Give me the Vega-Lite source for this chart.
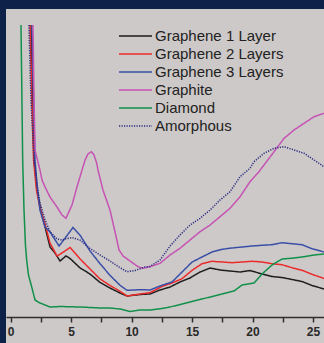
{
"$schema": "https://vega.github.io/schema/vega-lite/v6.json",
"width": 318, "height": 334,
"autosize": {"type": "none"},
"padding": {"left": 6, "top": 9, "right": 0, "bottom": 0},
"background": "#0e2148",
"config": {"view": {"stroke": null, "fill": "#cdc9c8"}},
"datasets": {
"d1": [
{"s":"Graphene 1 Layer","x":1.68,"y":292},{"s":"Graphene 1 Layer","x":1.80,"y":217},{"s":"Graphene 1 Layer","x":1.93,"y":157},{"s":"Graphene 1 Layer","x":2.18,"y":127},{"s":"Graphene 1 Layer","x":2.48,"y":107},{"s":"Graphene 1 Layer","x":2.84,"y":90},{"s":"Graphene 1 Layer","x":3.25,"y":70},{"s":"Graphene 1 Layer","x":3.66,"y":64},{"s":"Graphene 1 Layer","x":4.08,"y":56},{"s":"Graphene 1 Layer","x":4.57,"y":61},{"s":"Graphene 1 Layer","x":4.91,"y":58.5},{"s":"Graphene 1 Layer","x":5.74,"y":49},{"s":"Graphene 1 Layer","x":6.56,"y":43},{"s":"Graphene 1 Layer","x":7.39,"y":34.5},{"s":"Graphene 1 Layer","x":8.21,"y":29},{"s":"Graphene 1 Layer","x":9.04,"y":24},{"s":"Graphene 1 Layer","x":9.62,"y":21},{"s":"Graphene 1 Layer","x":10.70,"y":22.5},{"s":"Graphene 1 Layer","x":11.52,"y":23},{"s":"Graphene 1 Layer","x":12.35,"y":27},{"s":"Graphene 1 Layer","x":13.18,"y":30},{"s":"Graphene 1 Layer","x":14.00,"y":35},{"s":"Graphene 1 Layer","x":14.83,"y":39},{"s":"Graphene 1 Layer","x":15.66,"y":45},{"s":"Graphene 1 Layer","x":16.49,"y":49},{"s":"Graphene 1 Layer","x":17.31,"y":47},{"s":"Graphene 1 Layer","x":18.14,"y":46},{"s":"Graphene 1 Layer","x":18.97,"y":45},{"s":"Graphene 1 Layer","x":19.79,"y":46.5},{"s":"Graphene 1 Layer","x":20.79,"y":43},{"s":"Graphene 1 Layer","x":21.61,"y":40.5},{"s":"Graphene 1 Layer","x":22.44,"y":39.5},{"s":"Graphene 1 Layer","x":23.27,"y":37.5},{"s":"Graphene 1 Layer","x":24.09,"y":35.5},{"s":"Graphene 1 Layer","x":24.92,"y":31.5},{"s":"Graphene 1 Layer","x":25.91,"y":28},
{"s":"Graphene 2 Layers","x":1.60,"y":292},{"s":"Graphene 2 Layers","x":1.75,"y":217},{"s":"Graphene 2 Layers","x":1.89,"y":157},{"s":"Graphene 2 Layers","x":2.13,"y":127},{"s":"Graphene 2 Layers","x":2.42,"y":109},{"s":"Graphene 2 Layers","x":2.84,"y":93},{"s":"Graphene 2 Layers","x":3.25,"y":74},{"s":"Graphene 2 Layers","x":3.83,"y":61},{"s":"Graphene 2 Layers","x":4.24,"y":64},{"s":"Graphene 2 Layers","x":4.91,"y":69.5},{"s":"Graphene 2 Layers","x":5.74,"y":58},{"s":"Graphene 2 Layers","x":6.56,"y":48},{"s":"Graphene 2 Layers","x":7.39,"y":38},{"s":"Graphene 2 Layers","x":8.21,"y":31.5},{"s":"Graphene 2 Layers","x":9.04,"y":25.7},{"s":"Graphene 2 Layers","x":9.62,"y":21},{"s":"Graphene 2 Layers","x":10.70,"y":23},{"s":"Graphene 2 Layers","x":11.52,"y":24.3},{"s":"Graphene 2 Layers","x":12.51,"y":30.5},{"s":"Graphene 2 Layers","x":13.34,"y":34},{"s":"Graphene 2 Layers","x":14.17,"y":38.3},{"s":"Graphene 2 Layers","x":15.00,"y":46.7},{"s":"Graphene 2 Layers","x":15.82,"y":53.3},{"s":"Graphene 2 Layers","x":16.65,"y":55.7},{"s":"Graphene 2 Layers","x":17.48,"y":55},{"s":"Graphene 2 Layers","x":18.30,"y":54.3},{"s":"Graphene 2 Layers","x":19.13,"y":55},{"s":"Graphene 2 Layers","x":19.96,"y":55.7},{"s":"Graphene 2 Layers","x":20.79,"y":55},{"s":"Graphene 2 Layers","x":21.61,"y":53.3},{"s":"Graphene 2 Layers","x":22.44,"y":52.3},{"s":"Graphene 2 Layers","x":23.27,"y":49.3},{"s":"Graphene 2 Layers","x":24.09,"y":46.7},{"s":"Graphene 2 Layers","x":24.92,"y":42.7},{"s":"Graphene 2 Layers","x":25.91,"y":38.5},
{"s":"Graphene 3 Layers","x":1.76,"y":292},{"s":"Graphene 3 Layers","x":1.89,"y":217},{"s":"Graphene 3 Layers","x":2.01,"y":157},{"s":"Graphene 3 Layers","x":2.22,"y":127},{"s":"Graphene 3 Layers","x":2.42,"y":107},{"s":"Graphene 3 Layers","x":2.84,"y":90},{"s":"Graphene 3 Layers","x":3.25,"y":85},{"s":"Graphene 3 Layers","x":4.00,"y":71},{"s":"Graphene 3 Layers","x":4.57,"y":80},{"s":"Graphene 3 Layers","x":5.15,"y":89.5},{"s":"Graphene 3 Layers","x":5.74,"y":81.7},{"s":"Graphene 3 Layers","x":6.56,"y":66},{"s":"Graphene 3 Layers","x":7.39,"y":53.3},{"s":"Graphene 3 Layers","x":8.21,"y":41.7},{"s":"Graphene 3 Layers","x":9.04,"y":31.7},{"s":"Graphene 3 Layers","x":9.62,"y":26.7},{"s":"Graphene 3 Layers","x":10.70,"y":27.3},{"s":"Graphene 3 Layers","x":11.52,"y":27},{"s":"Graphene 3 Layers","x":12.51,"y":31.7},{"s":"Graphene 3 Layers","x":13.34,"y":35},{"s":"Graphene 3 Layers","x":14.17,"y":45},{"s":"Graphene 3 Layers","x":15.00,"y":55},{"s":"Graphene 3 Layers","x":15.82,"y":60},{"s":"Graphene 3 Layers","x":16.65,"y":65},{"s":"Graphene 3 Layers","x":17.48,"y":67.7},{"s":"Graphene 3 Layers","x":18.30,"y":69},{"s":"Graphene 3 Layers","x":19.13,"y":70},{"s":"Graphene 3 Layers","x":19.96,"y":71},{"s":"Graphene 3 Layers","x":20.79,"y":71.7},{"s":"Graphene 3 Layers","x":21.61,"y":72.3},{"s":"Graphene 3 Layers","x":22.44,"y":74.3},{"s":"Graphene 3 Layers","x":23.27,"y":73.3},{"s":"Graphene 3 Layers","x":24.09,"y":72.3},{"s":"Graphene 3 Layers","x":24.92,"y":68.3},{"s":"Graphene 3 Layers","x":25.91,"y":65},
{"s":"Graphite","x":1.84,"y":292},{"s":"Graphite","x":1.93,"y":217},{"s":"Graphite","x":2.01,"y":167},{"s":"Graphite","x":2.42,"y":147},{"s":"Graphite","x":2.59,"y":137},{"s":"Graphite","x":2.84,"y":130},{"s":"Graphite","x":3.25,"y":120},{"s":"Graphite","x":3.83,"y":110},{"s":"Graphite","x":4.24,"y":102},{"s":"Graphite","x":4.57,"y":98.7},{"s":"Graphite","x":5.07,"y":112},{"s":"Graphite","x":5.48,"y":130},{"s":"Graphite","x":5.90,"y":147},{"s":"Graphite","x":6.15,"y":157},{"s":"Graphite","x":6.39,"y":163},{"s":"Graphite","x":6.68,"y":165.3},{"s":"Graphite","x":6.89,"y":162},{"s":"Graphite","x":7.11,"y":154},{"s":"Graphite","x":7.22,"y":147},{"s":"Graphite","x":7.63,"y":127},{"s":"Graphite","x":8.21,"y":107},{"s":"Graphite","x":8.63,"y":85},{"s":"Graphite","x":8.96,"y":67},{"s":"Graphite","x":9.29,"y":61},{"s":"Graphite","x":9.87,"y":56},{"s":"Graphite","x":10.53,"y":50.3},{"s":"Graphite","x":10.94,"y":48.7},{"s":"Graphite","x":11.52,"y":50.3},{"s":"Graphite","x":12.35,"y":53.7},{"s":"Graphite","x":13.18,"y":62},{"s":"Graphite","x":14.00,"y":68.7},{"s":"Graphite","x":14.83,"y":77},{"s":"Graphite","x":15.66,"y":85.3},{"s":"Graphite","x":16.49,"y":92},{"s":"Graphite","x":17.31,"y":100.3},{"s":"Graphite","x":18.14,"y":108.7},{"s":"Graphite","x":18.97,"y":120.3},{"s":"Graphite","x":19.79,"y":135.3},{"s":"Graphite","x":20.51,"y":145},{"s":"Graphite","x":20.95,"y":152},{"s":"Graphite","x":21.78,"y":165.3},{"s":"Graphite","x":22.61,"y":178.7},{"s":"Graphite","x":23.43,"y":187},{"s":"Graphite","x":24.26,"y":193.7},{"s":"Graphite","x":25.09,"y":200.3},{"s":"Graphite","x":25.91,"y":203.7},
{"s":"Diamond","x":0.85,"y":292},{"s":"Diamond","x":0.93,"y":217},{"s":"Diamond","x":0.99,"y":157},{"s":"Diamond","x":1.10,"y":107},{"s":"Diamond","x":1.22,"y":72},{"s":"Diamond","x":1.32,"y":57},{"s":"Diamond","x":1.47,"y":42},{"s":"Diamond","x":1.74,"y":30},{"s":"Diamond","x":2.01,"y":17},{"s":"Diamond","x":2.42,"y":14},{"s":"Diamond","x":3.25,"y":10},{"s":"Diamond","x":4.08,"y":10.5},{"s":"Diamond","x":5.74,"y":10},{"s":"Diamond","x":7.39,"y":9},{"s":"Diamond","x":8.21,"y":9},{"s":"Diamond","x":9.04,"y":8},{"s":"Diamond","x":9.87,"y":5.5},{"s":"Diamond","x":10.70,"y":7},{"s":"Diamond","x":11.52,"y":7},{"s":"Diamond","x":12.51,"y":8.5},{"s":"Diamond","x":13.18,"y":10},{"s":"Diamond","x":14.17,"y":13},{"s":"Diamond","x":15.82,"y":18},{"s":"Diamond","x":17.48,"y":23},{"s":"Diamond","x":18.47,"y":26},{"s":"Diamond","x":19.13,"y":32},{"s":"Diamond","x":20.12,"y":34},{"s":"Diamond","x":20.79,"y":43},{"s":"Diamond","x":21.61,"y":52},{"s":"Diamond","x":22.44,"y":58},{"s":"Diamond","x":23.43,"y":59},{"s":"Diamond","x":24.09,"y":60},{"s":"Diamond","x":25.09,"y":62},{"s":"Diamond","x":25.91,"y":63},
{"s":"Amorphous","x":1.51,"y":292},{"s":"Amorphous","x":1.68,"y":217},{"s":"Amorphous","x":1.93,"y":157},{"s":"Amorphous","x":2.18,"y":132},{"s":"Amorphous","x":2.42,"y":114},{"s":"Amorphous","x":2.84,"y":97},{"s":"Amorphous","x":3.25,"y":85.3},{"s":"Amorphous","x":3.83,"y":78},{"s":"Amorphous","x":4.24,"y":77},{"s":"Amorphous","x":4.57,"y":78.2},{"s":"Amorphous","x":5.07,"y":79.5},{"s":"Amorphous","x":5.74,"y":76.8},{"s":"Amorphous","x":6.56,"y":68.5},{"s":"Amorphous","x":7.39,"y":62},{"s":"Amorphous","x":8.21,"y":56},{"s":"Amorphous","x":9.04,"y":49.3},{"s":"Amorphous","x":9.62,"y":45.3},{"s":"Amorphous","x":10.28,"y":46.5},{"s":"Amorphous","x":11.11,"y":50},{"s":"Amorphous","x":11.52,"y":50.5},{"s":"Amorphous","x":12.35,"y":57},{"s":"Amorphous","x":13.18,"y":71},{"s":"Amorphous","x":14.00,"y":82},{"s":"Amorphous","x":14.83,"y":92},{"s":"Amorphous","x":15.66,"y":98.7},{"s":"Amorphous","x":16.49,"y":107},{"s":"Amorphous","x":17.31,"y":117},{"s":"Amorphous","x":18.14,"y":125.3},{"s":"Amorphous","x":18.97,"y":140.3},{"s":"Amorphous","x":19.79,"y":148.7},{"s":"Amorphous","x":20.12,"y":155.3},{"s":"Amorphous","x":20.95,"y":163.7},{"s":"Amorphous","x":21.78,"y":168.7},{"s":"Amorphous","x":22.61,"y":170.3},{"s":"Amorphous","x":23.43,"y":167},{"s":"Amorphous","x":24.26,"y":163.7},{"s":"Amorphous","x":25.09,"y":157},{"s":"Amorphous","x":25.91,"y":150.3}
]
},
"data": {"name": "d1"},
"mark": {"type": "line", "strokeWidth": 1.5},
"encoding": {
"x": {"field": "x", "type": "quantitative", "scale": {"domain": [-0.389, 25.91], "nice": false, "zero": false},
"axis": {"title": null, "values": [0, 2.5, 5, 7.5, 10, 12.5, 15, 17.5, 20, 22.5, 25], "labelExpr": "datum.value % 5 === 0 ? datum.label : ''", "offset": -26, "grid": false, "domainColor": "#2e2e2e", "domainWidth": 1.5, "tickColor": "#2e2e2e", "tickSize": 5, "tickWidth": 1.5, "labelFont": "Liberation Sans", "labelFontWeight": "bold", "labelFontSize": 12, "labelColor": "#2a2a2a", "labelPadding": 4, "labelFlush": false, "labelOverlap": false}},
"y": {"field": "y", "type": "quantitative", "scale": {"domain": [-26, 308], "nice": false, "zero": false}, "axis": null},
"color": {"field": "s", "type": "nominal",
"scale": {"domain": ["Graphene 1 Layer", "Graphene 2 Layers", "Graphene 3 Layers", "Graphite", "Diamond", "Amorphous"], "range": ["#1e1e1e", "#ec2a2a", "#3a4ea8", "#c652b4", "#10904a", "#2b2b82"]},
"legend": {"title": null, "orient": "none", "legendX": 121, "legendY": 18.5, "padding": 0, "symbolType": "M-2.2,0H2.2", "symbolSize": 225, "symbolStrokeWidth": 1.5, "symbolFillColor": "transparent", "labelFont": "Liberation Sans", "labelFontSize": 15, "labelColor": "#222222", "labelOffset": 11, "rowPadding": 1, "labelLimit": 300}},
"strokeDash": {"field": "s", "type": "nominal",
"scale": {"domain": ["Graphene 1 Layer", "Graphene 2 Layers", "Graphene 3 Layers", "Graphite", "Diamond", "Amorphous"], "range": [[1, 0], [1, 0], [1, 0], [1, 0], [1, 0], [1.2, 1.3]]},
"legend": {"title": null, "orient": "none", "legendX": 121, "legendY": 18.5, "padding": 0, "symbolType": "M-2.2,0H2.2", "symbolSize": 225, "symbolStrokeWidth": 1.5, "symbolFillColor": "transparent", "labelFont": "Liberation Sans", "labelFontSize": 15, "labelColor": "#222222", "labelOffset": 11, "rowPadding": 1, "labelLimit": 300}}
}
}
